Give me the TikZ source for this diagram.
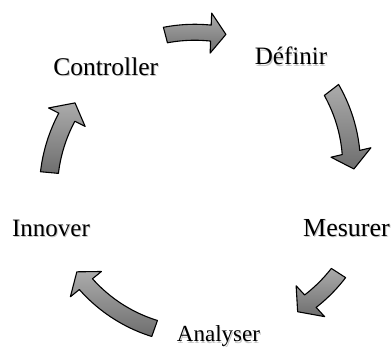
\documentclass[tikz,border=0pt]{standalone}
\usepackage{fontspec}
\setmainfont{Liberation Serif}
\definecolor{arrowtop}{HTML}{ABABAB}
\definecolor{arrowbot}{HTML}{6E6E6E}
\tikzset{
  arrowbody/.style={draw=black, line width=1.1pt, line join=round,
    top color=arrowtop, bottom color=arrowbot},
  steplabel/.style={anchor=base, inner sep=0pt, text=black},
  labelshadow/.style={anchor=base, inner sep=0pt, text=black, opacity=0.22},
}
% curved block arrow around the cycle centre:
% #1 tail angle, #2 head-base angle, #3 tip angle,
% #4 radius at tail, #5 radius at head, #6 shaft half width, #7 head half width
\newcommand{\cyclearrow}[7]{%
  \path[arrowbody]
    plot[domain=0:1, samples=30, variable=\s]
      ({#1+(#2-#1)*\s}:{#4+(#5-#4)*\s+#6})
    -- ({#2}:{#5+#7}) -- ({#3}:{#5}) -- ({#2}:{#5-#7})
    -- plot[domain=0:1, samples=30, variable=\s]
      ({#2+(#1-#2)*\s}:{#5+(#4-#5)*\s-#6})
    -- cycle;}
% text with a faint drop shadow
\newcommand{\cyclelabel}[5]{%
  \node[labelshadow, font=\fontsize{#4}{#4}\selectfont] (#1s) at (#2+0.9,#3-1.3) {#5};
  \node[steplabel, font=\fontsize{#4}{#4}\selectfont] (#1) at (#2,#3) {#5};}
\begin{document}
\begin{tikzpicture}[x=1pt, y=1pt]
  \useasboundingbox (0,0) rectangle (392,347);
  \fill[white] (0,0) rectangle (392,347);

  \begin{scope}[shift={(205,160)}]
    \cyclearrow{104.6}{87.8}{82.2}{157}{154}{8}{20}
    \cyclearrow{37.5}{13.3}{6.9}{159.4}{150}{9}{20.5}
    \cyclearrow{-32.8}{-47.3}{-53.4}{158.8}{155.4}{8.5}{21}
    \cyclearrow{250.4}{219.2}{213.5}{150.2}{153.7}{8.5}{20}
    \cyclearrow{174.7}{153.2}{147.1}{156.2}{154.8}{9}{20.5}
  \end{scope}

  \cyclelabel{definir}{291}{282}{25}{Définir}
  \cyclelabel{mesurer}{346.5}{110.3}{26}{Mesurer}
  \cyclelabel{analyser}{218.5}{5}{23}{Analyser}
  \cyclelabel{innover}{51}{110.3}{25}{Innover}
  \cyclelabel{controller}{105.8}{271.3}{25.5}{Controller}
\end{tikzpicture}
\end{document}
